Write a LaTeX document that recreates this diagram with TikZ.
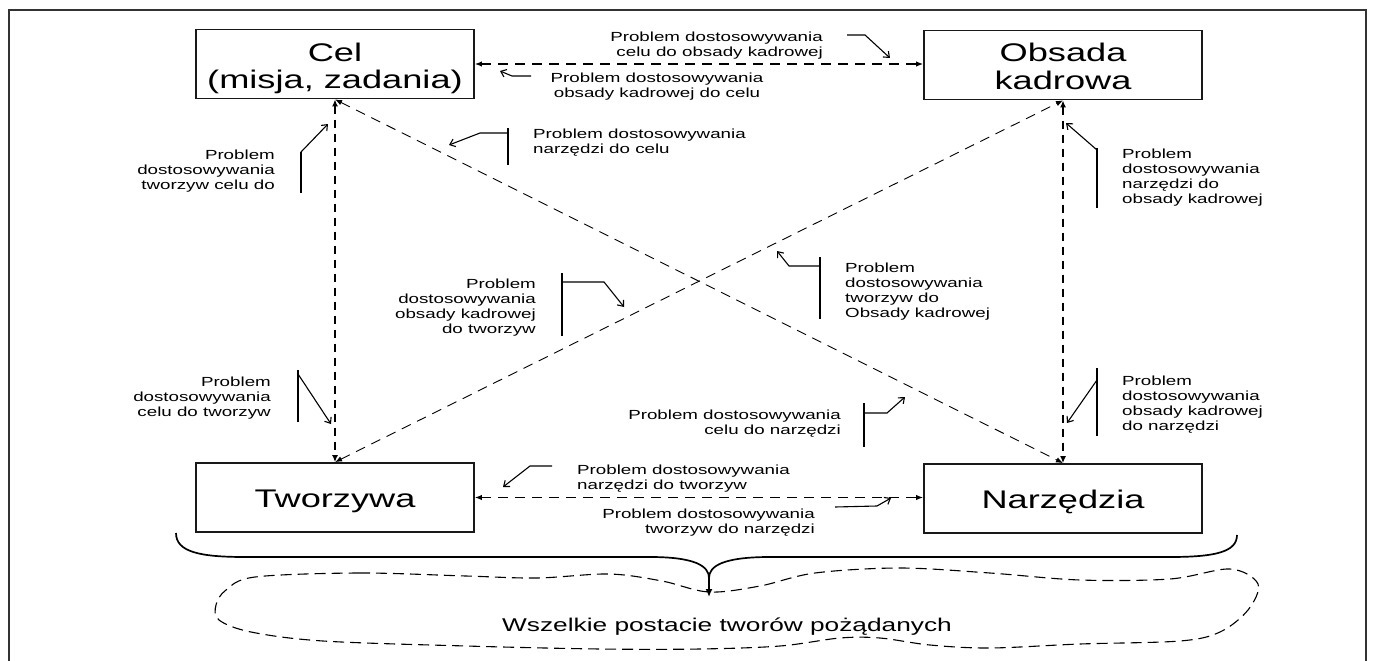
\documentclass[tikz,border=0pt]{standalone}
\usepackage{fontspec}
\setmainfont[FakeStretch=1.42]{Liberation Sans}
\usetikzlibrary{arrows.meta}
\begin{document}
\begin{tikzpicture}[x=1pt,y=-1pt,
  box/.style={draw=black!90, line width=1.8pt, minimum width=278pt, minimum height=69pt, inner sep=0pt},
  boxtext/.style={font=\fontsize{25.5}{27.5}\selectfont, align=center, inner sep=0pt},
  link/.style={line width=1.2pt, dash pattern=on 10pt off 7pt,
    {Latex[length=7pt,width=5.5pt]}-{Latex[length=7pt,width=5.5pt]}},
  vlink/.style={line width=1.7pt, dash pattern=on 8pt off 6pt,
    {Latex[length=7pt,width=6pt]}-{Latex[length=7pt,width=6pt]}},
  dlink/.style={line width=0.9pt, dash pattern=on 10pt off 7pt,
    {Latex[length=7pt,width=5.5pt]}-{Latex[length=7pt,width=5.5pt]}},
  note/.style={font=\fontsize{13.2}{15}\selectfont, inner sep=0pt},
  noteL/.style={note, align=left, anchor=west},
  noteR/.style={note, align=right, anchor=east},
  noteC/.style={note, align=center},
  lead/.style={line width=1.1pt, -{Straight Barb[length=5pt,width=8pt]}},
  bar/.style={line width=1.1pt},
  brace/.style={line width=1.7pt},
  blob/.style={line width=1.1pt, dash pattern=on 11pt off 6pt},
]
\useasboundingbox (0,0) rectangle (1379,661);

% outer frame
\draw[line width=1.6pt, black!80] (9,661) -- (9,10) -- (1366,10) -- (1366,661);

% the four boxes
\node[box] (cel) at (335,64) {};
\node[box] (obs) at (1063,65) {};
\node[box] (tw)  at (335,497.5) {};
\node[box] (nar) at (1063,498.5) {};

\node[boxtext] (celtxt) at (335,68.5) {Cel\\(misja, zadania)};
\node[boxtext] (obstxt) at (1063,66.5) {Obsada\\kadrowa};
\node[boxtext] (twtxt)  at (335,501.5) {Tworzywa};
\node[boxtext] (nartxt) at (1063,502) {Narzędzia};

% connectors between the boxes
\draw[link]  (cel.east) -- (cel.east -| obs.west);
\draw[link]  (tw.east) -- (tw.east -| nar.west);
\draw[vlink] (cel.south) -- (tw.north);
\draw[vlink] (obs.south) -- (nar.north);
\draw[dlink] (cel.south) -- (nar.north);
\draw[dlink] (tw.north) -- (obs.south);

% annotations with their pointers
\node[noteR] (n1) at (823,45.5) {Problem dostosowywania\\celu do obsady kadrowej};
\draw[lead] (847,35) -- (865,35) -- (890,58);

\node[noteC] (n2) at (657,87) {Problem dostosowywania\\obsady kadrowej do celu};
\draw[lead] (531,76) -- (512,76) -- (500,71);

\node[noteL] (n3) at (533,143) {Problem dostosowywania\\narzędzi do celu};
\draw[bar] (508,128) -- (508,165);
\draw[lead] (508,133) -- (480,133) -- (449,145);

\node[noteR] (n4) at (275,171) {Problem\\dostosowywania\\tworzyw celu do};
\draw[bar] (301,152) -- (301,193);
\draw[lead] (301,152) -- (328,124);

\node[noteR] (n5) at (536,307.5) {Problem\\dostosowywania\\obsady kadrowej\\do tworzyw};
\draw[bar] (562,273) -- (562,336);
\draw[lead] (562,282) -- (604,282) -- (624,307);

\node[noteR] (n6) at (271,398.5) {Problem\\dostosowywania\\celu do tworzyw};
\draw[bar] (298,370) -- (298,422);
\draw[lead] (298,374) -- (331,424);

\node[noteL] (n7) at (845,291.5) {Problem\\dostosowywania\\tworzyw do\\Obsady kadrowej};
\draw[bar] (820,257) -- (820,319);
\draw[lead] (820,266) -- (789,266) -- (777,251);

\node[noteR] (n8) at (841,424) {Problem dostosowywania\\celu do narzędzi};
\draw[bar] (864,403) -- (864,447);
\draw[lead] (864,413) -- (887,413) -- (905,397);

\node[noteL] (n9) at (1122,177.5) {Problem\\dostosowywania\\narzędzi do\\obsady kadrowej};
\draw[bar] (1097,148) -- (1097,208);
\draw[lead] (1097,150) -- (1066,123);

\node[noteL] (n10) at (1122,404.5) {Problem\\dostosowywania\\obsady kadrowej\\do narzędzi};
\draw[bar] (1097,368) -- (1097,436);
\draw[lead] (1097,380) -- (1067,423);

\node[noteL] (n11) at (577,479) {Problem dostosowywania\\narzędzi do tworzyw};
\draw[lead] (552,466) -- (530,466) -- (503,487);

\node[noteR] (n12) at (815,523) {Problem dostosowywania\\tworzyw do narzędzi};
\draw[lead] (835,507) -- (877,506) -- (891,498);

% brace gathering the lower boxes
\draw[brace] (176,533) .. controls (176,552) and (200,557) .. (245,557)
  -- (650,557) .. controls (695,557) and (709,566) .. (709,578);
\draw[brace] (1237,535) .. controls (1237,552) and (1215,557) .. (1170,557)
  -- (770,557) .. controls (723,557) and (709,566) .. (709,578);
\draw[brace, -{Latex[length=8pt,width=7pt]}] (709,576) -- (709,597);

% dashed outline of the outcome
\draw[blob] plot[smooth cycle, tension=0.55] coordinates {
  (255,577) (359,573) (466,576) (537,578) (609,574) (662,581) (709,592)
  (760,586) (815,573) (900,568) (990,573) (1080,580) (1170,579) (1230,569)
  (1258,584) (1248,610) (1220,632)
  (1180,641) (1080,644) (990,648) (930,645) (880,638) (840,638) (780,646)
  (700,649) (600,649) (466,646) (323,641) (251,632)
  (219,620) (216,605) (226,590)};
\node[font=\fontsize{18.5}{20}\selectfont, inner sep=0pt] (goal) at (727,627)
  {Wszelkie postacie tworów pożądanych};
\end{tikzpicture}
\end{document}
